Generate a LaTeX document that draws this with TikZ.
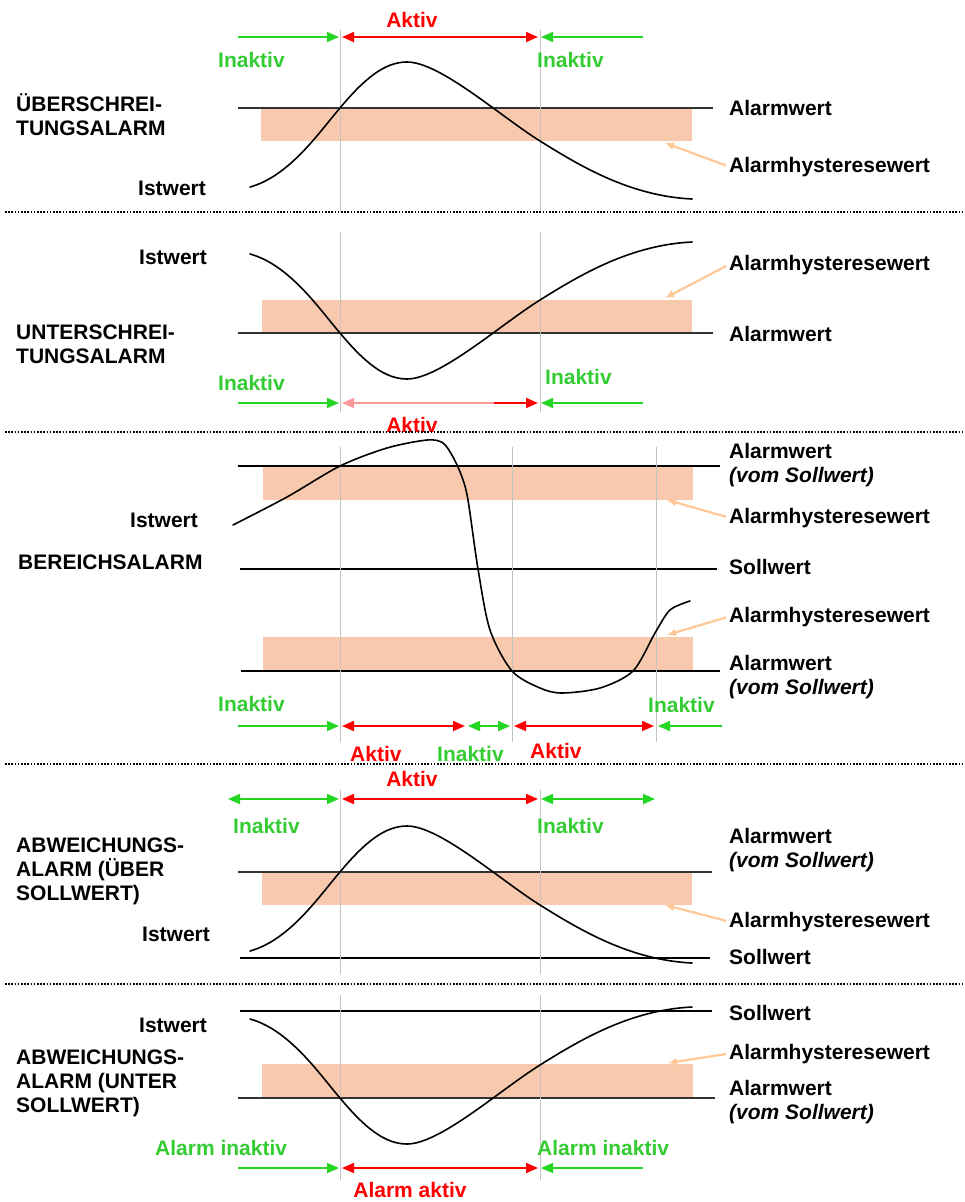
\documentclass[tikz,border=0pt]{standalone}
\usepackage{fontspec}
\setmainfont{Liberation Sans}
\usetikzlibrary{arrows.meta}

\definecolor{bandfill}{RGB}{248,201,172}
\definecolor{hystarrow}{RGB}{255,200,150}
\definecolor{okgreen}{RGB}{34,214,34}
\definecolor{oktext}{RGB}{51,204,51}
\definecolor{alarmred}{RGB}{255,0,0}
\definecolor{guidegray}{RGB}{195,195,195}

\tikzset{
  >={Triangle[length=12pt,width=10pt]},
  lbl/.style={font=\fontsize{21}{24}\selectfont\bfseries, inner sep=0pt, anchor=base west, align=left},
  oklbl/.style={lbl, text=oktext},
  badlbl/.style={lbl, text=alarmred},
  okspan/.style={draw=okgreen, line width=1.8pt},
  badspan/.style={draw=alarmred, line width=1.8pt},
  limit/.style={draw=black!80, line width=1.3pt},
  setpoint/.style={draw=black, line width=2pt},
  band/.style={fill=bandfill, draw=none},
  guide/.style={draw=guidegray, line width=0.9pt},
  pvcurve/.style={draw=black, line width=1.6pt, line cap=round},
  hyst/.style={draw=hystarrow, line width=2.2pt, shorten <=3pt, -{Latex[length=9pt,width=8pt]}},
  sep/.style={draw=black, line width=1.6pt, dash pattern=on 1.6pt off 1.6pt}
}

\begin{document}
\begin{tikzpicture}[x=1pt,y=-1pt]
\useasboundingbox (0,0) rectangle (965,1202);

% ---------- high alarm ----------
\fill[band] (261,108) rectangle (692,141);
\draw[limit] (238,108) -- (713,108);
\draw[guide] (340,30) -- (340,212);
\draw[guide] (540,30) -- (540,212);
\draw[pvcurve] (250,187) .. controls (290,176) and (320,131) .. (340,108)
  .. controls (365,78) and (385,62) .. (407,62)
  .. controls (440,62) and (500,116) .. (540,141)
  .. controls (580,166) and (630,196) .. (692,199);
\draw[okspan,->] (238,37) -- (339,37);
\draw[badspan,<->] (342,37) -- (538,37);
\draw[okspan,->] (643,37) -- (541,37);
\node[badlbl,anchor=base] (on1) at (412,27) {Aktiv};
\node[oklbl] (off1a) at (218,67) {Inaktiv};
\node[oklbl] (off1b) at (537,67) {Inaktiv};
\node[lbl] (t1) at (16,135) {ÜBERSCHREI-\\TUNGSALARM};
\node[lbl] (pv1) at (138,195) {Istwert};
\node[lbl] (a1) at (729,115) {Alarmwert};
\node[lbl] (h1) at (729,172) {Alarmhysteresewert};
\coordinate (h1t) at (665,143);
\draw[hyst] (h1.west) -- (h1t);

% ---------- low alarm ----------
\fill[band] (262,300) rectangle (692,333);
\draw[limit] (238,333) -- (713,333);
\draw[guide] (340,232) -- (340,412);
\draw[guide] (540,232) -- (540,412);
\draw[pvcurve] (250,254) .. controls (290,265) and (320,310) .. (340,333)
  .. controls (365,363) and (385,379) .. (407,379)
  .. controls (440,379) and (500,325) .. (540,300)
  .. controls (580,275) and (630,245) .. (692,242);
\draw[okspan,->] (238,403) -- (339,403);
\draw[badspan,draw=alarmred!40,<-] (342,403) -- (495,403);
\draw[badspan,->] (494,403) -- (538,403);
\draw[okspan,->] (643,403) -- (541,403);
\node[lbl] (pv2) at (139,264) {Istwert};
\node[lbl] (t2) at (16,363) {UNTERSCHREI-\\TUNGSALARM};
\node[lbl] (h2) at (729,270) {Alarmhysteresewert};
\node[lbl] (a2) at (729,341) {Alarmwert};
\node[oklbl] (off2a) at (218,390) {Inaktiv};
\node[oklbl] (off2b) at (545,384) {Inaktiv};
\node[badlbl,anchor=base] (on2) at (412,432) {Aktiv};
\coordinate (h2t) at (665,298);
\draw[hyst] (h2.west) -- (h2t);

% ---------- band alarm ----------
\fill[band] (263,467) rectangle (693,500);
\fill[band] (263,637) rectangle (693,671);
\draw[limit,draw=black,line width=1.6pt] (238,466) -- (720,466);
\draw[limit,draw=black] (240,569) -- (717,569);
\draw[limit,draw=black] (241,671) -- (720,671);
\draw[guide] (340,447) -- (340,742);
\draw[guide] (512,447) -- (512,742);
\draw[guide] (656,447) -- (656,742);
\draw[pvcurve] plot[smooth,tension=0.5] coordinates {(233,525) (287,497) (340,466) (387,448) (427,440) (443,443) (453,457) (462,477) (468,500) (478,569) (490,630) (512,671) (540,688) (562,693) (600,688) (633,671) (655,633) (670,610) (690,601)};
\draw[okspan,->] (238,726) -- (339,726);
\draw[badspan,<->] (342,726) -- (465,726);
\draw[okspan,<->] (468,726) -- (510,726);
\draw[badspan,<->] (514,726) -- (654,726);
\draw[okspan,->] (722,726) -- (658,726);
\node[lbl] (a3u) at (729,482) {Alarmwert\\{\itshape(vom Sollwert)}};
\node[lbl] (h3u) at (729,523) {Alarmhysteresewert};
\node[lbl] (s3) at (729,574) {Sollwert};
\node[lbl] (h3l) at (729,622) {Alarmhysteresewert};
\node[lbl] (a3l) at (729,694) {Alarmwert\\{\itshape(vom Sollwert)}};
\node[lbl] (pv3) at (130,527) {Istwert};
\node[lbl] (t3) at (18,569) {BEREICHSALARM};
\node[oklbl] (off3a) at (218,711) {Inaktiv};
\node[oklbl] (off3b) at (648,712) {Inaktiv};
\node[badlbl] (on3a) at (350,761) {Aktiv};
\node[oklbl] (off3c) at (437,761) {Inaktiv};
\node[badlbl] (on3b) at (530,758) {Aktiv};
\coordinate (h3ut) at (667,500);
\coordinate (h3lt) at (667,635);
\draw[hyst] (h3u.west) -- (h3ut);
\draw[hyst] (h3l.west) -- (h3lt);

% ---------- deviation above setpoint ----------
\fill[band] (262,872) rectangle (692,905);
\draw[limit] (238,872) -- (712,872);
\draw[setpoint] (240,958) -- (710,958);
\draw[guide] (340,790) -- (340,974);
\draw[guide] (540,790) -- (540,974);
\draw[pvcurve] (250,951) .. controls (290,940) and (320,895) .. (340,872)
  .. controls (365,842) and (385,826) .. (407,826)
  .. controls (440,826) and (500,880) .. (540,905)
  .. controls (580,930) and (630,960) .. (692,963);
\draw[okspan,<->] (228,799) -- (339,799);
\draw[badspan,<->] (342,799) -- (538,799);
\draw[okspan,<->] (541,799) -- (655,799);
\node[badlbl,anchor=base] (on4) at (412,786) {Aktiv};
\node[oklbl] (off4a) at (233,833) {Inaktiv};
\node[oklbl] (off4b) at (537,833) {Inaktiv};
\node[lbl] (t4) at (16,900) {ABWEICHUNGS-\\ALARM (ÜBER\\SOLLWERT)};
\node[lbl] (pv4) at (142,941) {Istwert};
\node[lbl] (a4) at (729,867) {Alarmwert\\{\itshape(vom Sollwert)}};
\node[lbl] (h4) at (729,927) {Alarmhysteresewert};
\node[lbl] (s4) at (729,964) {Sollwert};
\coordinate (h4t) at (665,905);
\draw[hyst] (h4.west) -- (h4t);

% ---------- deviation below setpoint ----------
\fill[band] (262,1064) rectangle (693,1098);
\draw[setpoint] (240,1011) -- (712,1011);
\draw[limit] (238,1098) -- (715,1098);
\draw[guide] (340,995) -- (340,1180);
\draw[guide] (540,995) -- (540,1180);
\draw[pvcurve] (250,1019) .. controls (290,1030) and (320,1075) .. (340,1098)
  .. controls (365,1128) and (385,1144) .. (407,1144)
  .. controls (440,1144) and (500,1090) .. (540,1065)
  .. controls (580,1040) and (630,1010) .. (692,1007);
\draw[okspan,->] (238,1168) -- (339,1168);
\draw[badspan,<->] (342,1168) -- (538,1168);
\draw[okspan,->] (643,1168) -- (541,1168);
\node[lbl] (pv5) at (139,1032) {Istwert};
\node[lbl] (t5) at (16,1112) {ABWEICHUNGS-\\ALARM (UNTER\\SOLLWERT)};
\node[lbl] (s5) at (729,1020) {Sollwert};
\node[lbl] (h5) at (729,1059) {Alarmhysteresewert};
\node[lbl] (a5) at (729,1119) {Alarmwert\\{\itshape(vom Sollwert)}};
\node[oklbl] (off5a) at (155,1155) {Alarm inaktiv};
\node[oklbl] (off5b) at (537,1155) {Alarm inaktiv};
\node[badlbl,anchor=base] (on5) at (410,1197) {Alarm aktiv};
\coordinate (h5t) at (668,1063);
\draw[hyst] (h5.west) -- (h5t);

% ---------- panel separators ----------
\draw[sep] (5,212) -- (965,212);
\draw[sep] (5,432) -- (965,432);
\draw[sep] (5,764) -- (965,764);
\draw[sep] (5,984) -- (965,984);
\end{tikzpicture}
\end{document}
